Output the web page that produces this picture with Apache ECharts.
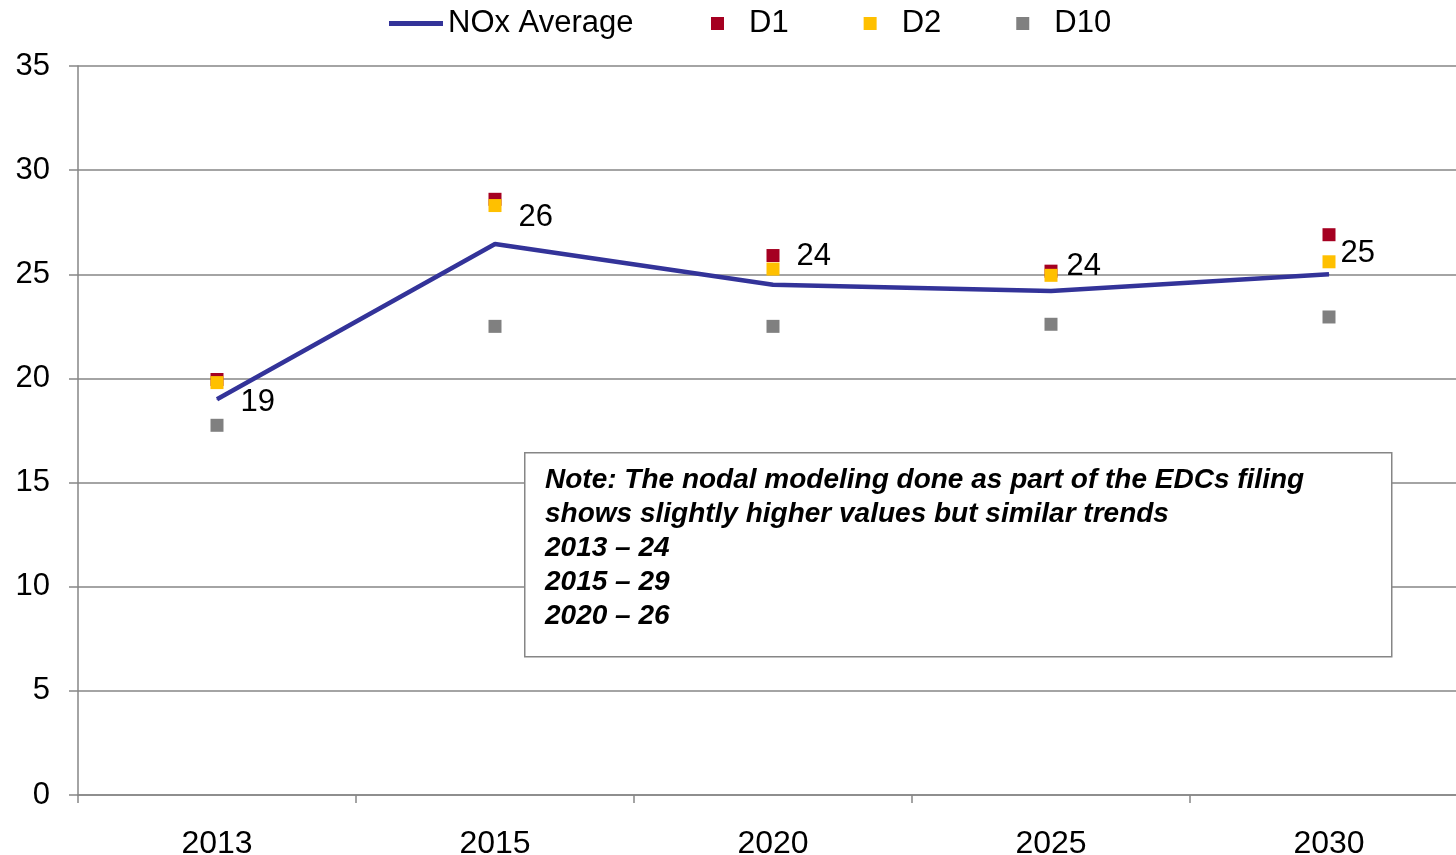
<!DOCTYPE html>
<html style="height: 100%">
<head>
<meta charset="utf-8">
<script src="https://cdn.jsdelivr.net/npm/echarts@6/dist/echarts.min.js"></script>
</head>
<body style="height: 100%; margin: 0; background: #fff">
<div id="container" style="width: 1456px; height: 855px"></div>
<script type="text/javascript">
var years = ['2013', '2015', '2020', '2025', '2030'];
var noxAverage = [19.0, 26.45, 24.5, 24.2, 25.0];
var noxLabels = ['19', '26', '24', '24', '25'];
var d1 = [19.95, 28.6, 25.9, 25.15, 26.9];
var d2 = [19.8, 28.3, 25.25, 24.95, 25.6];
var d10 = [17.75, 22.5, 22.5, 22.6, 22.95];
var noteLines = [
    'Note: The nodal modeling done as part of the EDCs filing',
    'shows slightly higher values but similar trends',
    '2013 \u2013 24',
    '2015 \u2013 29',
    '2020 \u2013 26'
];

// label nudges, copied by eye from the original
var labelOffsets = [[18, 3], [18, -27], [18, -28], [10, -24], [6, -21]];

var font = 'Liberation Sans, Arial, sans-serif';
var gray = '#868686';

var dom = document.getElementById('container');
var myChart = echarts.init(dom);

function squares(name, values, color) {
    return {
        name: name,
        type: 'scatter',
        symbol: 'rect',
        symbolSize: 13,
        itemStyle: { color: color, opacity: 1 },
        data: values
    };
}

var option = {
    animation: false,
    textStyle: { fontFamily: font },
    legend: [{
        data: [{ name: 'NOx Average', icon: 'rect' }],
        left: 384,
        top: 3,
        itemWidth: 54,
        itemHeight: 5,
        textStyle: { fontSize: 31, color: '#000', fontFamily: font }
    }, {
        data: [
            { name: 'D1', icon: 'rect' },
            { name: 'D2', icon: 'rect' },
            { name: 'D10', icon: 'rect' }
        ],
        left: 706,
        top: 3,
        itemWidth: 13,
        itemHeight: 13,
        itemGap: 75,
        textStyle: { fontSize: 31, color: '#000', fontFamily: font, padding: [0, 0, 0, 20] }
    }],
    // plot runs past the right edge of the picture, like the original
    grid: { left: 78, top: 66, width: 1390, bottom: 60, outerBoundsMode: 'none', containLabel: false },
    xAxis: {
        type: 'category',
        data: years,
        boundaryGap: true,
        axisLine: { lineStyle: { color: gray, width: 1.5 } },
        axisTick: { show: true, length: 8, lineStyle: { color: gray, width: 1.5 } },
        axisLabel: { fontSize: 32, color: '#000', margin: 33, fontFamily: font }
    },
    yAxis: {
        type: 'value',
        min: 0,
        max: 35,
        interval: 5,
        axisLine: { show: true, lineStyle: { color: gray, width: 1.5 } },
        axisTick: { show: true, length: 9, lineStyle: { color: gray, width: 1.5 } },
        axisLabel: { fontSize: 31, color: '#000', margin: 28, fontFamily: font },
        splitLine: { lineStyle: { color: gray, width: 1.5 } }
    },
    series: [{
        name: 'NOx Average',
        type: 'line',
        symbol: 'circle',
        symbolSize: 1,
        showSymbol: true,
        lineStyle: { color: '#333399', width: 4.5 },
        itemStyle: { color: '#333399' },
        data: noxAverage.map(function (v, i) {
            return {
                value: v,
                label: {
                    show: true,
                    position: 'right',
                    offset: labelOffsets[i],
                    formatter: noxLabels[i],
                    fontSize: 31,
                    color: '#000',
                    fontFamily: font
                }
            };
        })
    },
        squares('D1', d1, '#A50021'),
        squares('D2', d2, '#FFC000'),
        squares('D10', d10, '#808080')
    ],
    graphic: [{
        type: 'rect',
        left: 524,
        top: 452,
        shape: { width: 867, height: 204 },
        style: { fill: '#fff', stroke: gray, lineWidth: 1.5 },
        z: 100
    }, {
        type: 'text',
        left: 545,
        top: 463,
        z: 101,
        style: {
            text: noteLines.join('\n'),
            font: 'italic bold 28px ' + font,
            lineHeight: 34,
            fill: '#000'
        }
    }]
};

myChart.setOption(option);
</script>
</body>
</html>
